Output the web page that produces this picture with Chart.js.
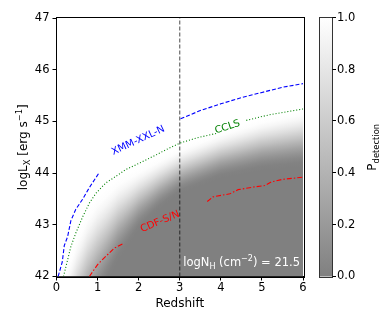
<!DOCTYPE html>
<html>
<head>
<meta charset="utf-8">
<script src="https://cdn.jsdelivr.net/npm/chart.js@4.4.0/dist/chart.umd.min.js"></script>
<style>
  html, body { margin: 0; padding: 0; background: #fff; }
</style>
</head>
<body>
<canvas id="chart" width="390" height="325"></canvas>
<script>
// detection limit curves (null = gap in the line)
const xmmZ = [0.04, 0.14, 0.19, 0.27, 0.35, 0.47, 0.64, 0.8, 1.04, 2.0, 3.02, 3.5, 4.0, 4.5, 5.0, 5.5, 6.0];
const xmmL = [42.0, 42.28, 42.6, 42.77, 43.08, 43.3, 43.5, 43.72, 44.01, null, 45.05, 45.21, 45.34, 45.46, 45.56, 45.66, 45.73];

const cclsZ = [0.17, 0.27, 0.35, 0.47, 0.64, 0.8, 0.96, 1.2, 1.45, 1.69, 2.01, 2.42, 2.66, 3.0, 3.41, 3.9, 4.25, 4.62, 5.19, 6.0];
const cclsL = [42.0, 42.32, 42.58, 42.84, 43.16, 43.42, 43.61, 43.81, 43.94, 44.07, 44.19, 44.35, 44.45, 44.58, 44.68, 44.77, null, 45.02, 45.13, 45.24];

const cdfZ = [0.8, 1.0, 1.2, 1.41, 1.61, 2.6, 3.67, 3.81, 4.22, 4.42, 4.79, 5.07, 5.23, 5.51, 6.0];
const cdfL = [42.0, 42.23, 42.39, 42.55, 42.63, null, 43.45, 43.54, 43.6, 43.68, 43.73, 43.76, 43.83, 43.88, 43.92];

// P_detection field: logL where P ~ 1 (top edge) and P ~ 0 (bottom edge) per redshift
const heatZ = [0, 0.25, 0.5, 0.75, 1.0, 1.5, 2.0, 2.5, 3.0, 4.0, 5.0, 6.0];
const heatHi = [41.4, 42.2, 42.8, 43.25, 43.55, 43.9, 44.1, 44.3, 44.5, 44.8, 45.05, 45.22];
const heatLo = [39.2, 40.0, 40.6, 41.1, 41.5, 42.3, 42.9, 43.3, 43.6, 43.9, 44.05, 44.12];

const cutZ = [3, 3];
const cutL = [42, 47];

const FONT = "'DejaVu Sans', sans-serif";

function pts(zs, ls) {
    return zs.map(function (z, i) { return { x: z, y: ls[i] }; });
}

function lerp(xs, ys, v) {
    if (v <= xs[0]) return ys[0];
    for (let i = 1; i < xs.length; i++) {
        if (v <= xs[i]) {
            const t = (v - xs[i - 1]) / (xs[i] - xs[i - 1]);
            return ys[i - 1] + t * (ys[i] - ys[i - 1]);
        }
    }
    return ys[ys.length - 1];
}

function grey(p) {
    const g = Math.round(128 + 127 * p);
    return 'rgb(' + g + ',' + g + ',' + g + ')';
}

function drawRich(ctx, parts, x, y, size, align) {
    let w = 0;
    parts.forEach(function (p) {
        ctx.font = (p.s ? size * 0.7 : size) + 'px ' + FONT;
        w += ctx.measureText(p.t).width;
    });
    let cx = align === 'center' ? x - w / 2 : (align === 'right' ? x - w : x);
    ctx.textAlign = 'left';
    ctx.textBaseline = 'alphabetic';
    parts.forEach(function (p) {
        const fs = p.s ? size * 0.7 : size;
        ctx.font = fs + 'px ' + FONT;
        const dy = p.s === 'sub' ? size * 0.22 : (p.s === 'sup' ? -size * 0.42 : 0);
        ctx.fillText(p.t, cx, y + dy);
        cx += ctx.measureText(p.t).width;
    });
}

const heatPlugin = {
    id: 'heat',
    beforeDatasetsDraw: function (chart) {
        const ctx = chart.ctx, a = chart.chartArea;
        const x = chart.scales.x, y = chart.scales.y;
        ctx.save();
        ctx.beginPath();
        ctx.rect(a.left, a.top, a.right - a.left, a.bottom - a.top);
        ctx.clip();
        for (let px = Math.floor(a.left); px < a.right; px++) {
            const z = x.getValueForPixel(px + 0.5);
            const yHi = y.getPixelForValue(lerp(heatZ, heatHi, z));
            const yLo = y.getPixelForValue(lerp(heatZ, heatLo, z));
            const g = ctx.createLinearGradient(0, yHi, 0, yLo);
            for (let i = 0; i <= 12; i++) {
                const t = i / 12;
                g.addColorStop(t, grey(1 - t * t * (3 - 2 * t)));
            }
            ctx.fillStyle = g;
            ctx.fillRect(px, a.top, 1, a.bottom - a.top);
        }
        ctx.restore();
    },
};

const decoPlugin = {
    id: 'deco',
    afterDatasetsDraw: function (chart) {
        const ctx = chart.ctx, a = chart.chartArea;
        const x = chart.scales.x, y = chart.scales.y, cb = chart.scales.cb;
        ctx.save();

        // curve labels
        const labels = [
            { t: 'XMM-XXL-N', z: 1.99, l: 44.63, r: -25, c: '#0000ff' },
            { t: 'CCLS', z: 4.16, l: 44.89, r: -18, c: '#008000' },
            { t: 'CDF-S/N', z: 2.52, l: 43.06, r: -23, c: '#ff0000' },
        ];
        labels.forEach(function (o) {
            ctx.save();
            ctx.translate(x.getPixelForValue(o.z), y.getPixelForValue(o.l));
            ctx.rotate(o.r * Math.PI / 180);
            ctx.fillStyle = o.c;
            ctx.font = '10px ' + FONT;
            ctx.textAlign = 'center';
            ctx.textBaseline = 'middle';
            ctx.fillText(o.t, 0, 0);
            ctx.restore();
        });

        // column density note
        ctx.fillStyle = '#fff';
        drawRich(ctx, [{ t: 'logN' }, { t: 'H', s: 'sub' }, { t: ' (cm' }, { t: '\u22122', s: 'sup' }, { t: ') = 21.5' }],
            a.right - 3, 266, 11.5, 'right');

        // frame
        ctx.strokeStyle = '#000';
        ctx.lineWidth = 1;
        ctx.strokeRect(Math.round(a.left) - 0.5, Math.round(a.top) - 0.5, Math.round(a.right - a.left) + 1, Math.round(a.bottom - a.top) + 1);

        // y title
        ctx.save();
        ctx.translate(27, (a.top + a.bottom) / 2);
        ctx.rotate(-Math.PI / 2);
        ctx.fillStyle = '#000';
        drawRich(ctx, [{ t: 'logL' }, { t: 'X', s: 'sub' }, { t: ' [erg s' }, { t: '\u22121', s: 'sup' }, { t: ']' }], 0, 0, 12, 'center');
        ctx.restore();

        // colour bar
        const bl = 319.5, br = 332.5;
        const top = cb.getPixelForValue(1), bot = cb.getPixelForValue(0);
        const g = ctx.createLinearGradient(0, bot, 0, top);
        g.addColorStop(0, grey(0));
        g.addColorStop(1, grey(1));
        ctx.fillStyle = g;
        ctx.fillRect(bl, top, br - bl, bot - top);
        ctx.strokeStyle = '#333';
        ctx.strokeRect(bl, Math.round(top) - 0.5, br - bl, Math.round(bot - top) + 1);
        ctx.strokeStyle = '#000';
        cb.ticks.forEach(function (tk) {
            const py = Math.round(cb.getPixelForValue(tk.value)) - 0.5;
            ctx.beginPath();
            ctx.moveTo(br, py);
            ctx.lineTo(br + 3.5, py);
            ctx.stroke();
        });

        ctx.save();
        ctx.translate(376, (a.top + a.bottom) / 2);
        ctx.rotate(-Math.PI / 2);
        ctx.fillStyle = '#000';
        drawRich(ctx, [{ t: 'P' }, { t: 'detection', s: 'sub' }], 0, 0, 12, 'center');
        ctx.restore();

        ctx.restore();
    },
};

function curve(zs, ls, color, dash) {
    return {
        data: pts(zs, ls),
        borderColor: color,
        borderWidth: 1.1,
        borderDash: dash,
        pointRadius: 0,
        fill: false,
        tension: 0,
        spanGaps: false,
    };
}

new Chart(document.getElementById('chart'), {
    type: 'line',
    data: {
        datasets: [
            curve(xmmZ, xmmL, '#0000ff', [4, 2]),
            curve(cclsZ, cclsL, '#008000', [1, 2]),
            curve(cdfZ, cdfL, '#ff0000', [5, 2, 1.5, 2]),
            curve(cutZ, cutL, 'rgba(0,0,0,0.65)', [4, 2]),
        ],
    },
    options: {
        responsive: false,
        animation: false,
        devicePixelRatio: 1,
        layout: { padding: { top: 18, left: 0, right: 0, bottom: 0 } },
        plugins: {
            legend: { display: false },
            tooltip: { enabled: false },
        },
        scales: {
            x: {
                type: 'linear', min: 0, max: 6,
                ticks: { stepSize: 1, color: '#000', font: { family: FONT, size: 11.5 }, padding: 1 },
                grid: { drawOnChartArea: false, tickLength: 4, color: '#000' },
                border: { color: '#000' },
                title: { display: true, text: 'Redshift', color: '#000', font: { family: FONT, size: 12 }, padding: { top: 0, bottom: 14 } },
                afterFit: function (s) { s.height = 48.5; s.paddingLeft = 0; s.paddingRight = 0; },
            },
            y: {
                type: 'linear', min: 42, max: 47,
                ticks: { stepSize: 1, color: '#000', font: { family: FONT, size: 11.5 }, padding: 3 },
                grid: { drawOnChartArea: false, tickLength: 4, color: '#000' },
                border: { color: '#000' },
                afterFit: function (s) { s.width = 56.5; s.paddingTop = 0; s.paddingBottom = 0; },
            },
            cb: {
                type: 'linear', position: 'right', min: 0, max: 1,
                ticks: { stepSize: 0.2, color: '#000', font: { family: FONT, size: 11.5 }, padding: 34,
                    callback: function (v) { return v.toFixed(1); } },
                grid: { drawOnChartArea: false, drawTicks: false },
                border: { display: false },
                afterFit: function (s) { s.width = 87; s.paddingTop = 0; s.paddingBottom = 0; },
            },
        },
    },
    plugins: [heatPlugin, decoPlugin],
});
</script>
</body>
</html>
